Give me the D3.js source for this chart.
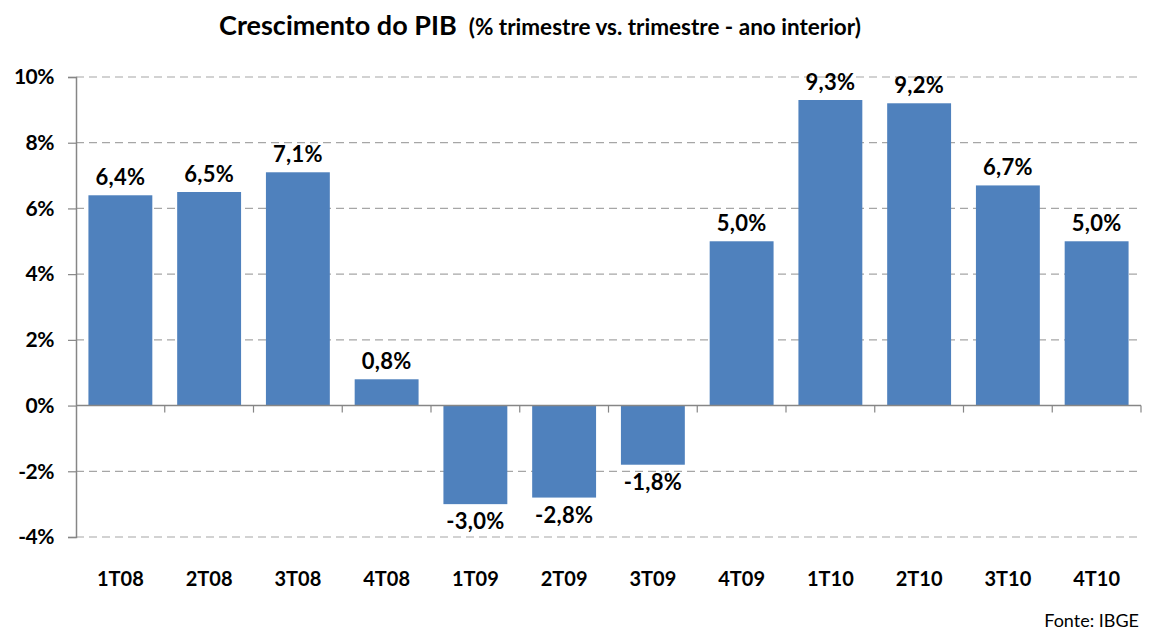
<!DOCTYPE html>
<html><head><meta charset="utf-8">
<script src="https://cdn.jsdelivr.net/npm/d3@7"></script>
<style>body{margin:0;background:#fff;} svg{display:block;font-family:Lato, "Open Sans", sans-serif;}</style>
</head><body>
<script>
const categories = ["1T08","2T08","3T08","4T08","1T09","2T09","3T09","4T09","1T10","2T10","3T10","4T10"];
const values = [6.4,6.5,7.1,0.8,-3.0,-2.8,-1.8,5.0,9.3,9.2,6.7,5.0];
const yTicks = [-4,-2,0,2,4,6,8,10];
const title = "Crescimento do PIB";
const subtitle = "(% trimestre vs. trimestre - ano interior)";
const source = "Fonte: IBGE";

const W = 1155, H = 632;
const svg = d3.select("body").append("svg").attr("width", W).attr("height", H);
const x = d3.scaleBand().domain(categories).range([76, 1141]).paddingInner(0.28).paddingOuter(0.14);
const y = d3.scaleLinear().domain([-4, 10]).range([537, 77]);

// gridlines
svg.append("g").selectAll("line").data(yTicks.filter(d => d !== 0)).join("line")
  .attr("x1", 76).attr("x2", 1141).attr("y1", d => y(d)).attr("y2", d => y(d))
  .attr("stroke", "#a6a6a6").attr("stroke-width", 1.2).attr("stroke-dasharray", "8,5");

// bars
svg.append("g").selectAll("rect").data(values).join("rect")
  .attr("x", (d, i) => x(categories[i]))
  .attr("width", x.bandwidth())
  .attr("y", d => y(Math.max(0, d)))
  .attr("height", d => Math.abs(y(d) - y(0)))
  .attr("fill", "#4f81bd");

// y axis
const yAxis = d3.axisLeft(y).tickValues(yTicks).tickSize(8).tickFormat(d => d + "%");
const gy = svg.append("g").attr("transform", "translate(76,0)").call(yAxis);
gy.select(".domain").attr("stroke", "#868686").attr("stroke-width", 1.5);
gy.selectAll(".tick line").attr("stroke", "#868686").attr("stroke-width", 1.2);
gy.selectAll(".tick text").attr("x", -22).attr("font-size", 21).attr("font-weight", "bold").attr("fill", "#000").attr("font-family", "Lato").attr("letter-spacing", -0.5);

// x axis at zero
const gx = svg.append("g").attr("transform", `translate(0,${y(0)})`);
gx.append("line").attr("x1", 76).attr("x2", 1141).attr("stroke", "#868686").attr("stroke-width", 1.5);
gx.selectAll("line.t").data(d3.range(1, categories.length + 1)).join("line").attr("class", "t")
  .attr("x1", i => 76 + i * (1141 - 76) / categories.length)
  .attr("x2", i => 76 + i * (1141 - 76) / categories.length)
  .attr("y1", 0).attr("y2", 7).attr("stroke", "#868686").attr("stroke-width", 1.2);

// x labels
svg.append("g").selectAll("text").data(categories).join("text")
  .attr("x", d => x(d) + x.bandwidth() / 2).attr("y", 586)
  .attr("text-anchor", "middle").attr("font-size", 20).attr("font-weight", "bold").text(d => d);

// data labels
svg.append("g").selectAll("text").data(values).join("text")
  .attr("x", (d, i) => x(categories[i]) + x.bandwidth() / 2)
  .attr("y", d => d >= 0 ? y(d) - 10 : y(d) + 25)
  .attr("text-anchor", "middle").attr("font-size", 22).attr("font-weight", "bold").attr("letter-spacing", 0.3)
  .text(d => d.toFixed(1).replace(".", ",") + "%");

// title
const t = svg.append("text").attr("x", 540).attr("y", 35).attr("text-anchor", "middle");
t.append("tspan").attr("font-size", 27).attr("font-weight", "bold").text(title);
t.append("tspan").attr("font-size", 22.5).attr("font-weight", "bold").attr("dx", 12).text(subtitle);

svg.append("text").attr("x", 1139).attr("y", 627).attr("text-anchor", "end").attr("font-size", 18).text(source);
</script>
</body></html>
